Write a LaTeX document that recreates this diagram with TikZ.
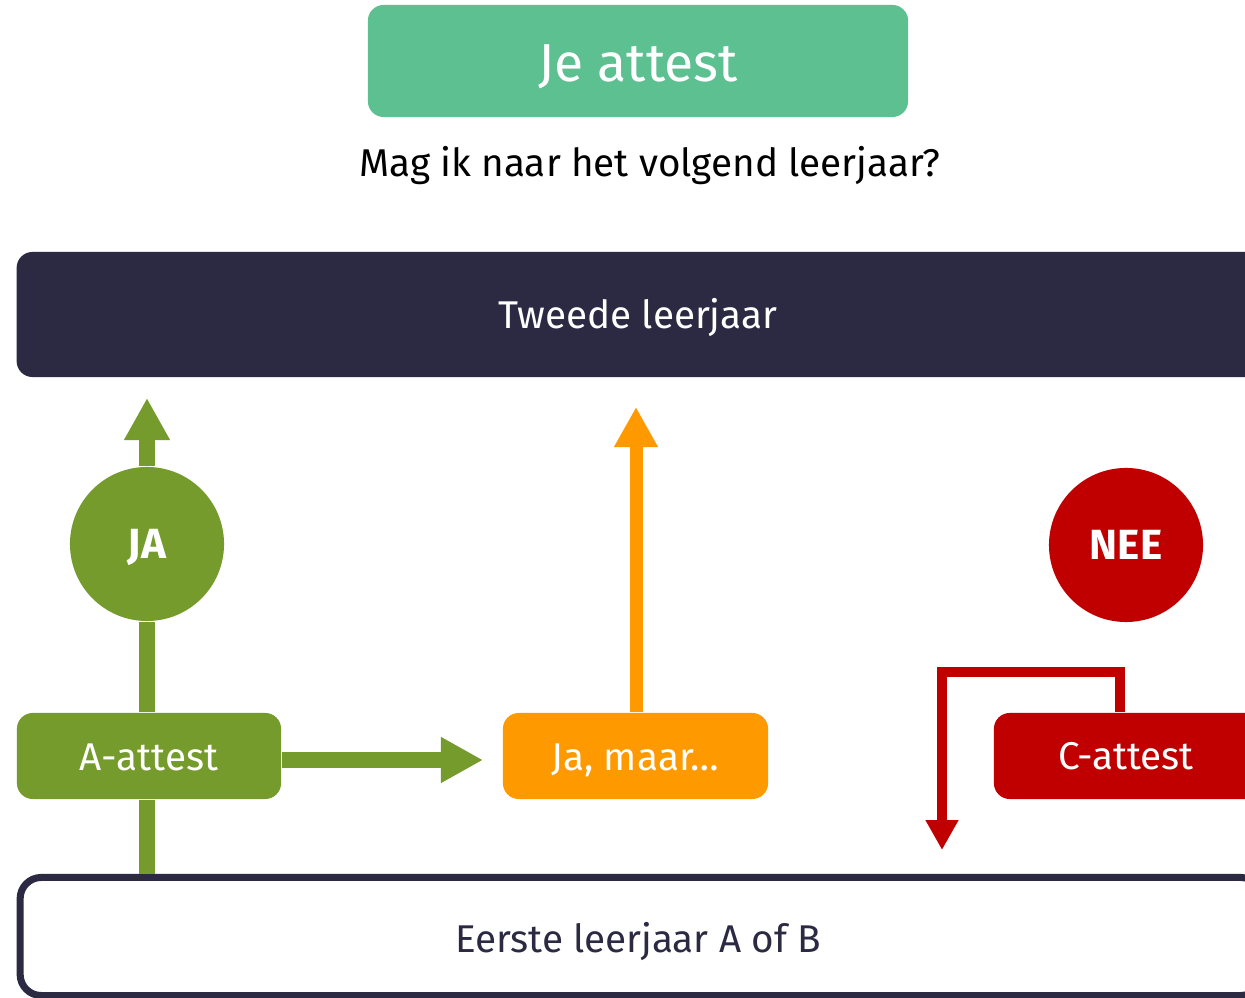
\documentclass[tikz,border=0pt]{standalone}
\usepackage{fontspec}
\setmainfont{Fira Sans}
\usepackage{xcolor}
\usetikzlibrary{arrows.meta}
\usetikzlibrary{positioning}

\definecolor{mint}{HTML}{5CC091}
\definecolor{leaf}{HTML}{759B2C}
\definecolor{amber}{HTML}{FF9900}
\definecolor{crimson}{HTML}{C00000}
\definecolor{navy}{HTML}{2B2A42}

\begin{document}
\begin{tikzpicture}[x=0.01cm, y=-0.01cm,
    box/.style={rounded corners=4.5pt, inner sep=0pt, text=white,
      text height=9pt, text depth=1pt, font=\fontsize{11}{13}\selectfont},
    word/.style={anchor=base, inner sep=0pt, font=\fontsize{11}{13}\selectfont},
    bubble/.style={circle, minimum size=1.54cm, inner sep=0pt, text=white,
      text height=8pt, text depth=0pt, font=\fontsize{12}{14}\selectfont\bfseries},
    garrow/.style={draw=leaf, line width=4.27pt, -{Triangle[length=11.95pt, width=12.2pt]}}]

    \clip (0, 0) rectangle (1245, 998);

    % header
    \node [box, fill=mint, minimum width=5.4cm, minimum height=1.12cm,
      text height=13pt, text depth=1.6pt, font=\fontsize{15.2}{18}\selectfont] (attest) at (638, 61) {Je attest};
    \node [word] (vraag) at (650, 177) {Mag ik naar het volgend leerjaar?};

    % years
    \node [box, fill=navy, minimum width=12.48cm, minimum height=1.25cm] (tweede) at (641, 314.5) {};
    \node [word, text=white] (tweedetxt) at (638, 329) {Tweede leerjaar};
    \node [box, draw=navy, line width=2pt, fill=white, rounded corners=6pt,
      minimum width=12.41cm, minimum height=1.18cm] (eerste) at (641, 936.5) {};
    \node [word, text=navy] (eerstetxt) at (638, 953) {Eerste leerjaar A of B};

    % attests
    \node [box, fill=leaf, minimum width=2.64cm, minimum height=0.86cm] (aatt) at (149, 756) {A-attest};
    \node [box, fill=amber, minimum width=2.65cm, minimum height=0.86cm] (jamaar) at (635.5, 756) {Ja, maar…};
    \node [box, fill=crimson, minimum width=2.7cm, minimum height=0.86cm] (catt) at (1129, 756) {};
    \node [word, text=white] (catttxt) at (1126, 770) {C-attest};

    % answers
    \node [bubble, fill=leaf] (ja) at (147, 544) {JA};
    \node [bubble, fill=crimson] (nee) at (1126, 545) {NEE};

    % arrows
    \coordinate (jatip) at (147, 398);
    \coordinate (jmtip) at (483, 760);
    \coordinate (ortip) at (636, 407);
    \coordinate (cbend) at (942, 672);
    \coordinate (ctip) at (942, 850);
    \draw [draw=leaf, line width=4.27pt] (aatt.north -| ja) -- (ja);
    \draw [garrow] (ja) -- (jatip);
    \draw [draw=leaf, line width=4.27pt] (aatt.south -| ja) -- (eerste.north -| ja);
    \draw [garrow] (aatt.east |- jmtip) -- (jmtip);
    \draw [draw=amber, line width=3.7pt, -{Triangle[length=11.4pt, width=11.7pt]}] (jamaar.north -| ortip) -- (ortip);
    \draw [draw=crimson, line width=2.85pt, -{Triangle[length=8.5pt, width=8.8pt]}]
      ([xshift=-0.09cm]catt.north) |- (cbend) -- (ctip);

  \end{tikzpicture}
\end{document}
